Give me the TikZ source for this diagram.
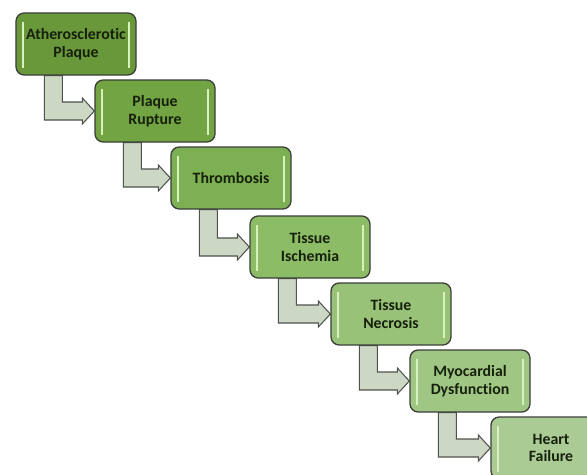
\documentclass[tikz,border=0pt]{standalone}
\usepackage{fontspec}
\setmainfont[Ligatures=NoCommon]{Carlito}
\usetikzlibrary{calc,backgrounds}

\definecolor{step1}{RGB}{104,152,58}
\definecolor{step2}{RGB}{114,164,68}
\definecolor{step3}{RGB}{125,176,82}
\definecolor{step4}{RGB}{140,188,102}
\definecolor{step5}{RGB}{152,194,120}
\definecolor{step6}{RGB}{160,198,132}
\definecolor{step7}{RGB}{170,204,148}
\definecolor{boxline}{RGB}{60,62,58}
\definecolor{steptext}{RGB}{22,32,12}
\definecolor{glowline}{RGB}{214,240,190}
\definecolor{arrowfill}{RGB}{204,215,196}
\definecolor{arrowline}{RGB}{80,82,78}

\tikzset{
  stepbox/.style={draw=boxline, line width=1.1pt, rounded corners=7pt,
    minimum width=3.6cm, minimum height=1.86cm, align=center, inner sep=1pt,
    text=steptext, font=\fontsize{13.5}{15}\selectfont\bfseries,
    path picture={
      \draw[glowline, line width=2pt]
        ([xshift=6pt,yshift=-8pt]path picture bounding box.north west) --
        ([xshift=6pt,yshift=6pt]path picture bounding box.south west);
      \draw[glowline, line width=2pt]
        ([xshift=-6pt,yshift=-8pt]path picture bounding box.north east) --
        ([xshift=-6pt,yshift=6pt]path picture bounding box.south east);}},
  arrowbox/.style={draw=arrowline, line width=0.9pt, fill=arrowfill, line join=miter}
}

% bent arrow from the foot of one box into the side of the next
\newcommand{\steparrow}[2]{%
  \draw[arrowbox] ($(#1.south west)+(29,0)$) |- ($(#2.west)+(-12,9)$)
    -- ($(#2.west)+(-12,13)$) -- (#2.west) -- ($(#2.west)+(-12,-13)$)
    -- ($(#2.west)+(-12,-9)$) -| ($(#1.south west)+(47,0)$) -- cycle;}

\begin{document}
\begin{tikzpicture}[x=0.03cm, y=-0.03cm]
        \useasboundingbox (0,0) rectangle (587,474);                          %
        \clip (0,0) rectangle (587,474);                                      %
        \node[stepbox, fill=step1] (plaque)     at (76,44)  {Atherosclerotic\\Plaque}; %
        \node[stepbox, fill=step2] (rupture)    at (155,111) {Plaque\\Rupture};        %
        \node[stepbox, fill=step3] (thrombosis) at (231,178) {Thrombosis};             %
        \node[stepbox, fill=step4] (ischemia)   at (310,247) {Tissue\\Ischemia};       %
        \node[stepbox, fill=step5] (necrosis)   at (391,314) {Tissue\\Necrosis};       %
        \node[stepbox, fill=step6] (dysfunc)    at (470,381) {Myocardial\\Dysfunction};%
        \node[stepbox, fill=step7] (failure)    at (551,448) {Heart\\Failure};         %
        \begin{pgfonlayer}{background}
        \steparrow{plaque}{rupture}                                           %
        \steparrow{rupture}{thrombosis}                                       %
        \steparrow{thrombosis}{ischemia}                                      %
        \steparrow{ischemia}{necrosis}                                        %
        \steparrow{necrosis}{dysfunc}                                         %
        \steparrow{dysfunc}{failure}                                          %
        \end{pgfonlayer}
\end{tikzpicture}
\end{document}
